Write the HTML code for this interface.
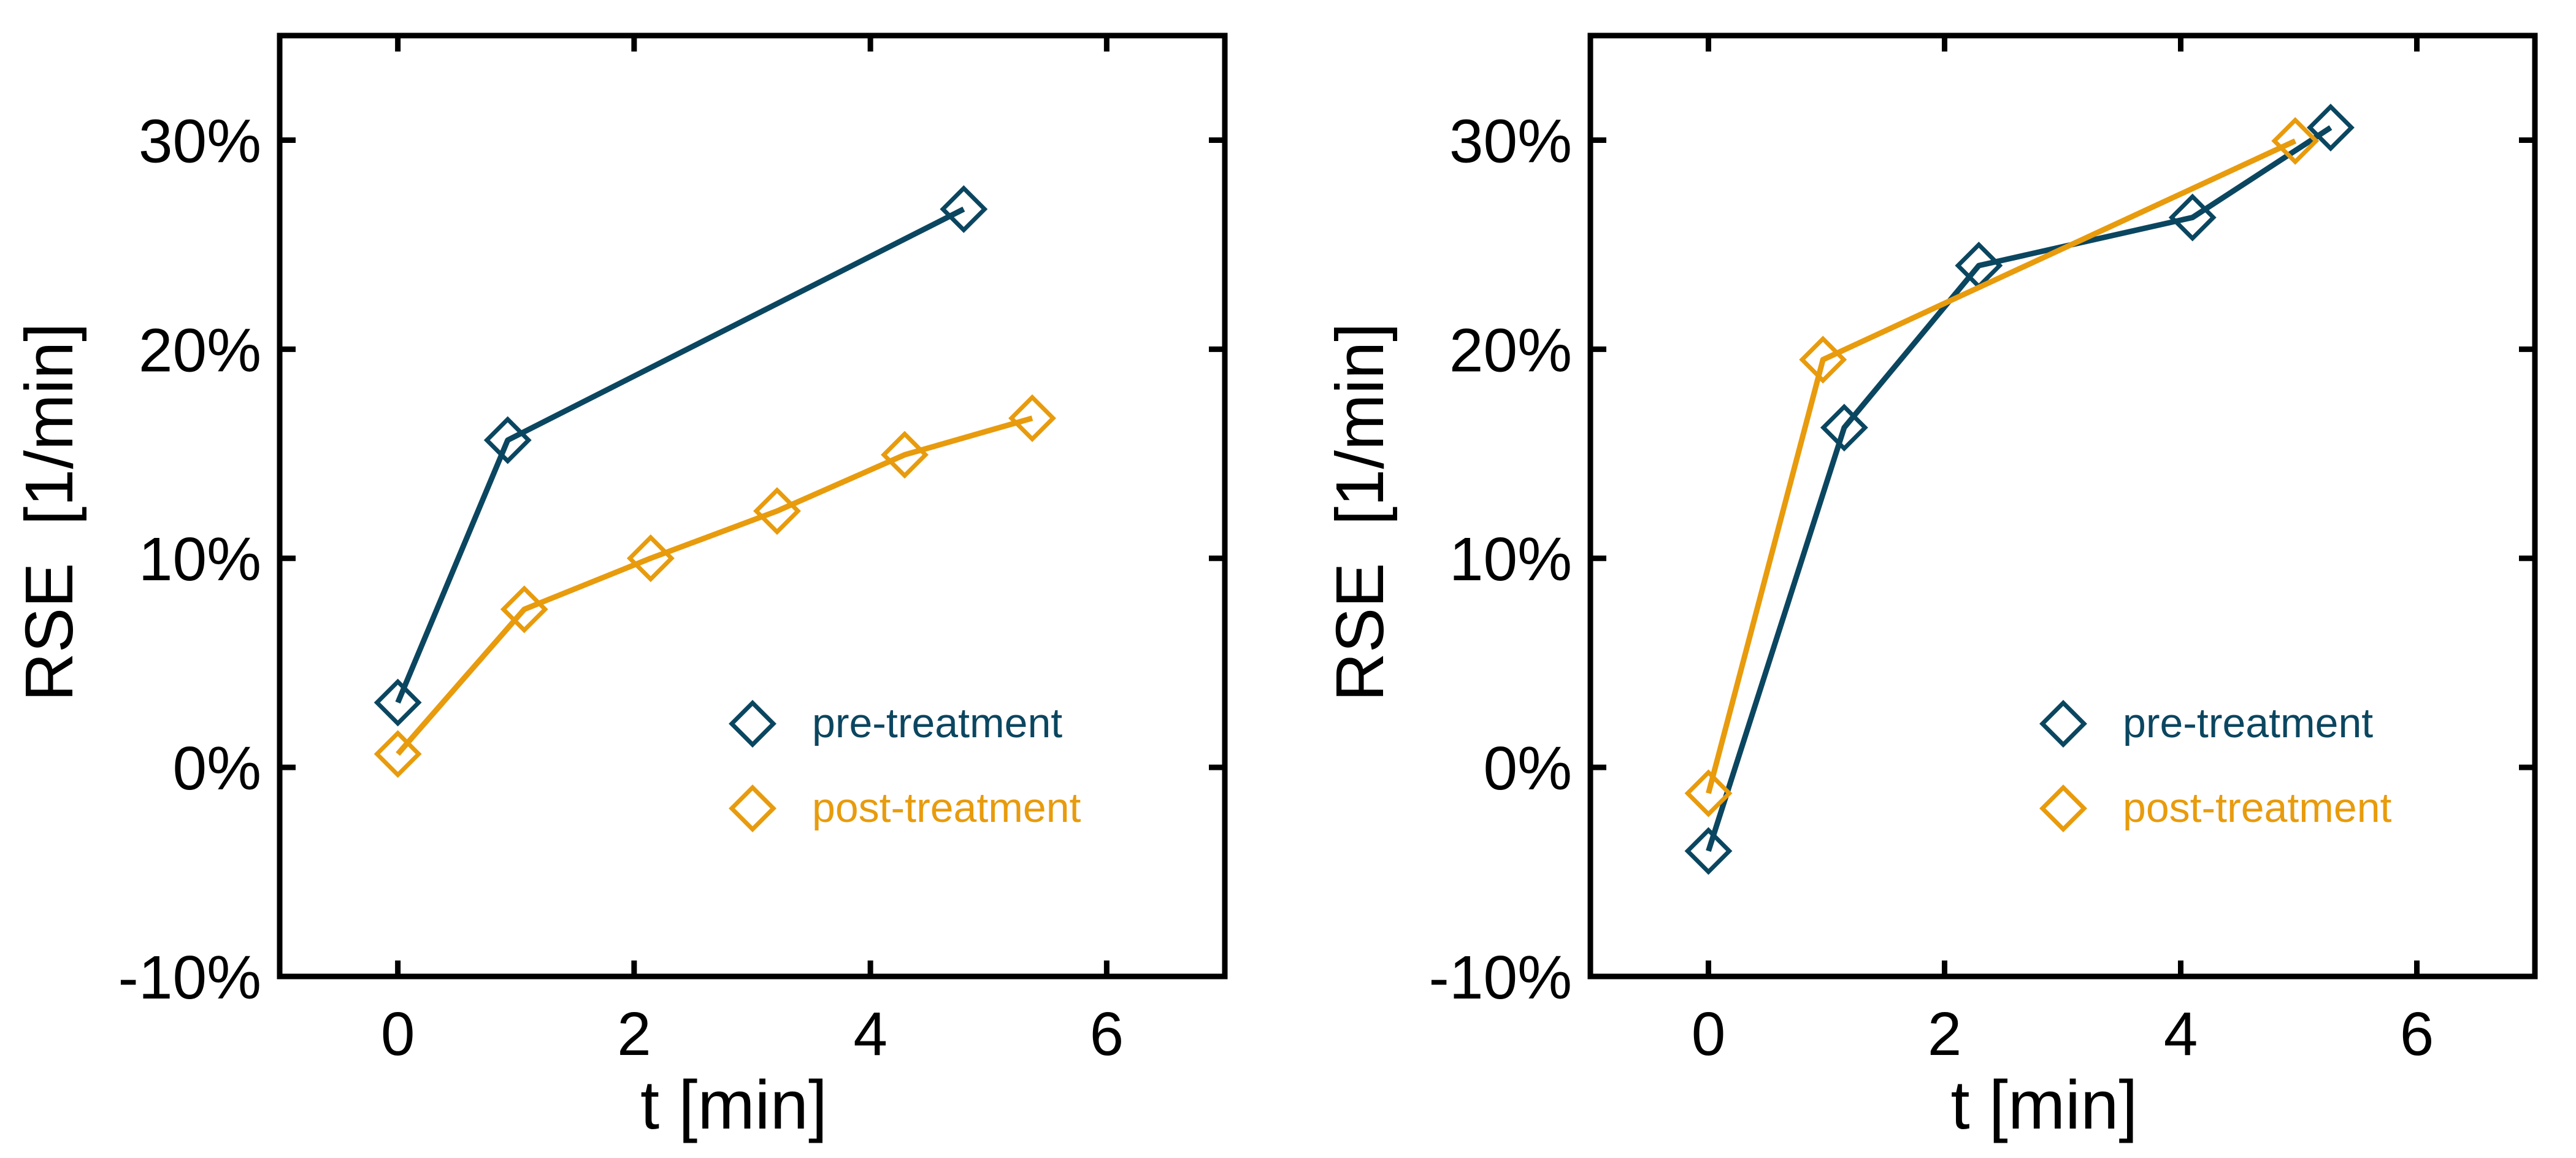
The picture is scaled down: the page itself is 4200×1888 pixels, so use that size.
<!DOCTYPE html>
<html><head><meta charset="utf-8"><style>
html,body{margin:0;padding:0;background:#fff;}
svg{display:block;font-family:"Liberation Sans",Arial,sans-serif;}
</style></head><body>
<svg id="chart" width="4200" height="1888" viewBox="0 0 4200 1888" xmlns="http://www.w3.org/2000/svg"></svg>
<script>
const xTicks = [0, 2, 4, 6];
const yTicks = [-10, 0, 10, 20, 30];
const yTickLabels = ["-10%", "0%", "10%", "20%", "30%"];
const seriesNames = ["pre-treatment", "post-treatment"];
const leftPreX = [0, 0.93, 4.79];
const leftPreY = [3.1, 15.65, 26.7];
const leftPostX = [0, 1.07, 2.14, 3.21, 4.29, 5.37];
const leftPostY = [0.64, 7.56, 10.0, 12.26, 14.95, 16.7];
const rightPreX = [0, 1.15, 2.29, 4.10, 5.27];
const rightPreY = [-4.0, 16.25, 24.0, 26.3, 30.6];
const rightPostX = [0, 0.97, 4.97];
const rightPostY = [-1.24, 19.5, 29.96];

const NS = "http://www.w3.org/2000/svg";
const svg = document.getElementById("chart");
const COLORS = ["#0b4660", "#e89b0c"];
function mk(tag, attrs, parent) {
  const e = document.createElementNS(NS, tag);
  for (const k in attrs) e.setAttribute(k, attrs[k]);
  (parent || svg).appendChild(e);
  return e;
}
function drawPanel(px0, px1, idx, series) {
  const py0 = 58, py1 = 1592;
  const g = mk("g", {});
  
  
  const xs = v => px0 + (v + 1) / 8 * (px1 - px0);
  const ys = v => py1 - (v + 10) / 45 * (py1 - py0);
  const frame = mk("rect", {x: px0, y: py0, width: px1 - px0, height: py1 - py0, fill: "none", stroke: "#000", "stroke-width": 9}, g);
  
  
  xTicks.forEach(t => {
    const x = xs(t);
    mk("line", {x1: x, x2: x, y1: py1, y2: py1 - 26, stroke: "#000", "stroke-width": 9}, g);
    mk("line", {x1: x, x2: x, y1: py0, y2: py0 + 26, stroke: "#000", "stroke-width": 9}, g);
    const tl = mk("text", {x: x, y: 1720, "font-size": 100, "text-anchor": "middle"}, g);
    tl.textContent = t;
    
    
  });
  yTicks.forEach((t, i) => {
    const y = ys(t);
    mk("line", {x1: px0, x2: px0 + 26, y1: y, y2: y, stroke: "#000", "stroke-width": 9}, g);
    mk("line", {x1: px1, x2: px1 - 26, y1: y, y2: y, stroke: "#000", "stroke-width": 9}, g);
    const tl = mk("text", {x: px0 - 30, y: y + 36, "font-size": 100, "text-anchor": "end"}, g);
    tl.textContent = yTickLabels[i];
    
    
  });
  const xt = mk("text", {x: (px0 + px1) / 2 - 30, y: 1840, "font-size": 112, "text-anchor": "middle"}, g);
  xt.textContent = "t [min]";
  
  
  const yx = px0 - 338, yy = 835;
  const yt = mk("text", {x: yx, y: yy, "font-size": 110, "text-anchor": "middle", transform: `rotate(-90 ${yx} ${yy})`}, g);
  yt.textContent = "RSE\u00a0\u00a0[1/min]";
  
  
  function diamond(cx, cy, color, parent) {
    const r = 34;
    return mk("polygon", {points: `${cx},${cy - r} ${cx + r},${cy} ${cx},${cy + r} ${cx - r},${cy}`, fill: "none", stroke: color, "stroke-width": 7}, parent);
  }
  series.forEach((s, si) => {
    const sg = mk("g", {}, g);
    
    
    const pts = s.x.map((v, i) => xs(v) + "," + ys(s.y[i])).join(" ");
    const line = mk("polyline", {points: pts, fill: "none", stroke: COLORS[si], "stroke-width": 9, "stroke-linejoin": "round"}, sg);
    
    
    s.x.forEach((v, i) => {
      const d = diamond(xs(v), ys(s.y[i]), COLORS[si], sg);
      
      
    });
  });
  const lg = mk("g", {}, g);
  
  
  seriesNames.forEach((n, i) => {
    const ly = 1180 + i * 138;
    const lx = px0 + 771;
    const d = diamond(lx, ly, COLORS[i], lg);
    
    
    const t = mk("text", {x: lx + 97, y: ly + 22, "font-size": 68, fill: COLORS[i]}, lg);
    t.textContent = n;
    
    
  });
}
drawPanel(456, 1997, "left", [{x: leftPreX, y: leftPreY}, {x: leftPostX, y: leftPostY}]);
drawPanel(2593, 4133, "right", [{x: rightPreX, y: rightPreY}, {x: rightPostX, y: rightPostY}]);
</script>
</body></html>
